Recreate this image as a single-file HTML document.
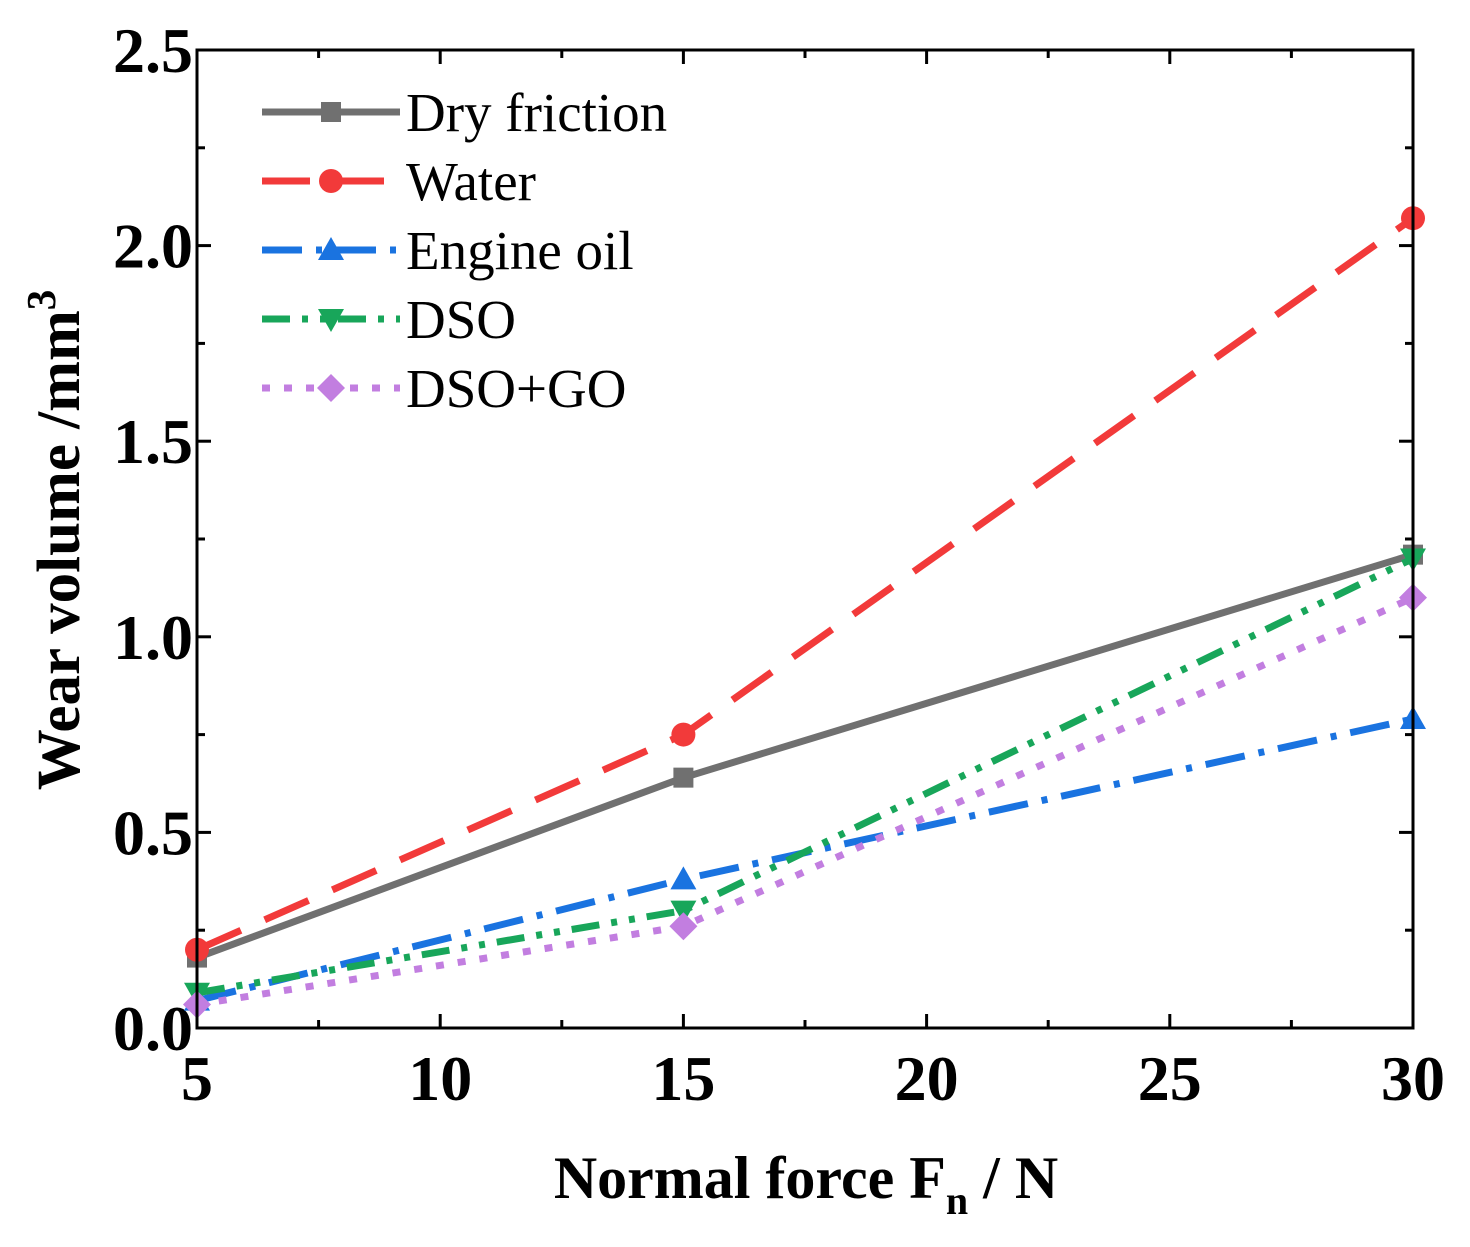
<!DOCTYPE html>
<html><head><meta charset="utf-8"><style>
html,body{margin:0;padding:0;background:#fff;}
svg{display:block;font-family:"Liberation Serif",serif;}
</style></head><body>
<svg id="chart" width="1470" height="1247" viewBox="0 0 1470 1247">
<g id="ticks"></g><g id="series"></g><g id="legend"></g>
<rect x="197" y="50" width="1216" height="978" fill="none" stroke="#000" stroke-width="3"/>
<text x="806" y="1198" text-anchor="middle" font-size="60" font-weight="bold">Normal force F<tspan font-size="40" dy="16">n</tspan><tspan dy="-16"> / N</tspan></text>
<text transform="translate(79,540) rotate(-90)" text-anchor="middle" font-size="61" font-weight="bold">Wear volume /mm<tspan font-size="41" dy="-24">3</tspan></text>
</svg>
<script>
const xValues=[5,15,30];
const dryFriction=[0.18,0.64,1.21];
const water=[0.20,0.75,2.07];
const engineOil=[0.07,0.38,0.79];
const dso=[0.09,0.30,1.20];
const dsoGo=[0.06,0.26,1.10];
const xTicks=[5,10,15,20,25,30];
const yTicks=["0.0","0.5","1.0","1.5","2.0","2.5"];
const seriesNames=["Dry friction","Water","Engine oil","DSO","DSO+GO"];

const NS="http://www.w3.org/2000/svg";
const X0=197,X1=1413,Y0=1028,Y1=50;
const sx=v=>X0+(v-5)/(30-5)*(X1-X0);
const sy=v=>Y0-v/2.5*(Y0-Y1);
function mk(tag,attrs,parent){const e=document.createElementNS(NS,tag);for(const k in attrs)e.setAttribute(k,attrs[k]);parent.appendChild(e);return e;}
const tg=document.getElementById('ticks');
xTicks.forEach((t,i)=>{
 const x=sx(t);
 const a=mk('line',{x1:x,x2:x,y1:Y0,y2:Y0-14,stroke:'#000','stroke-width':3},tg);
 
 
 mk('line',{x1:x,x2:x,y1:Y1,y2:Y1+14,stroke:'#000','stroke-width':3},tg);
 if(i<xTicks.length-1){const m=sx(t+2.5);mk('line',{x1:m,x2:m,y1:Y0,y2:Y0-8,stroke:'#000','stroke-width':3},tg);mk('line',{x1:m,x2:m,y1:Y1,y2:Y1+8,stroke:'#000','stroke-width':3},tg);}
 const l=mk('text',{x:x,y:1100,'text-anchor':'middle','font-size':64,'font-weight':'bold'},tg);
 l.textContent=t;
 
 
});
yTicks.forEach((t,i)=>{
 const v=parseFloat(t),y=sy(v);
 const a=mk('line',{x1:X0,x2:X0+14,y1:y,y2:y,stroke:'#000','stroke-width':3},tg);
 
 
 mk('line',{x1:X1,x2:X1-14,y1:y,y2:y,stroke:'#000','stroke-width':3},tg);
 if(i<yTicks.length-1){const m=sy(v+0.25);mk('line',{x1:X0,x2:X0+8,y1:m,y2:m,stroke:'#000','stroke-width':3},tg);mk('line',{x1:X1,x2:X1-8,y1:m,y2:m,stroke:'#000','stroke-width':3},tg);}
 const l=mk('text',{x:193,y:y+22,'text-anchor':'end','font-size':64,'font-weight':'bold'},tg);
 l.textContent=t;
 
 
});
const styles=[
 {c:'#707070',d:'',m:'square'},
 {c:'#f23a3a',d:'48 26',m:'circle'},
 {c:'#1a73e0',d:'40 14 6 14',m:'up'},
 {c:'#18a65a',d:'28 12 6 12 6 12',m:'down'},
 {c:'#c27ee0',d:'8 14',m:'diamond'}];
const data=[dryFriction,water,engineOil,dso,dsoGo];
function marker(type,x,y,c,p){
 if(type==='square')return mk('rect',{x:x-10,y:y-10,width:20,height:20,fill:c},p);
 if(type==='circle')return mk('circle',{cx:x,cy:y,r:12,fill:c},p);
 if(type==='up')return mk('polygon',{points:`${x},${y-13} ${x+13},${y+10} ${x-13},${y+10}`,fill:c},p);
 if(type==='down')return mk('polygon',{points:`${x},${y+13} ${x+13},${y-10} ${x-13},${y-10}`,fill:c},p);
 return mk('polygon',{points:`${x},${y-14} ${x+14},${y} ${x},${y+14} ${x-14},${y}`,fill:c},p);
}
const sg=document.getElementById('series'),lg=document.getElementById('legend');
data.forEach((vals,si)=>{
 const st=styles[si];
 const g=mk('g',{},sg);
 
 
 const pts=vals.map((v,i)=>sx(xValues[i])+','+sy(v)).join(' ');
 mk('polyline',{points:pts,fill:'none',stroke:st.c,'stroke-width':7,'stroke-dasharray':st.d},g);
 vals.forEach((v,i)=>{const m=marker(st.m,sx(xValues[i]),sy(v),st.c,g);
  
  });
 const ly=112+si*69;
 const le=mk('g',{},lg);
 
 
 mk('line',{x1:262,x2:400,y1:ly,y2:ly,stroke:st.c,'stroke-width':7,'stroke-dasharray':st.d},le);
 marker(st.m,331,ly,st.c,le);
 const t=mk('text',{x:406,y:ly+19,'font-size':55},le);
 t.textContent=seriesNames[si];
});
</script>
</body></html>
